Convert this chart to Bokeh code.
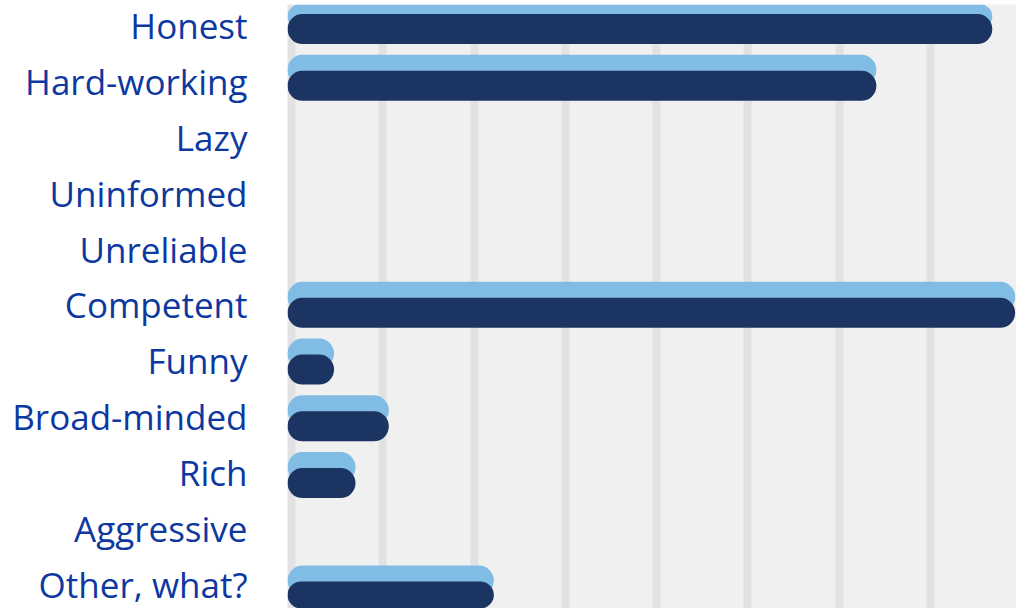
from bokeh.plotting import figure
from bokeh.models import ColumnDataSource, Range1d, FixedTicker, LinearAxis
from bokeh.embed import file_html
from bokeh.resources import INLINE

categories = ["Honest", "Hard-working", "Lazy", "Uninformed", "Unreliable",
              "Competent", "Funny", "Broad-minded", "Rich", "Aggressive", "Other, what?"]
values = [77.2, 64.5, 0, 0, 0, 79.7, 5.1, 11.1, 7.45, 0, 22.6]
grid_values = [0, 10, 20, 30, 40, 50, 60, 70, 80]

pos = list(range(len(categories)))
shadow_shift = 0.282
src = ColumnDataSource(dict(
    y=pos,
    y_light=[p - shadow_shift for p in pos],
    v=values,
))

p = figure(width=1016, height=608, output_backend="svg", toolbar_location=None,
           x_range=Range1d(0, 79.85), y_range=Range1d(10.211, -0.432),
           min_border_left=287, min_border_right=0, min_border_top=4, min_border_bottom=0,
           y_axis_location=None)
p.extra_y_ranges = {"labels": Range1d(10.43, -0.376)}

p.background_fill_color = "#f0f0f0"
p.border_fill_color = "white"
p.outline_line_color = None

p.xaxis.visible = False
p.xgrid.ticker = FixedTicker(ticks=[g + 0.44 for g in grid_values])
p.xgrid.grid_line_color = "#e2e2e4"
p.xgrid.grid_line_width = 8
p.ygrid.grid_line_color = None

ax = LinearAxis(y_range_name="labels", ticker=FixedTicker(ticks=pos),
                major_label_overrides={i: c for i, c in enumerate(categories)})
ax.axis_line_color = None
ax.major_tick_line_color = None
ax.minor_tick_line_color = None
ax.major_tick_out = 0
ax.major_label_standoff = 40
ax.major_label_text_font = "Open Sans"
ax.major_label_text_font_size = "35px"
ax.major_label_text_color = "#0c38a0"
p.add_layout(ax, "left")

bar_h = 0.529
p.hbar(y="y_light", left=0, right="v", height=bar_h, source=src,
       fill_color="#80bce3", line_color=None, border_radius=15)
p.hbar(y="y", left=0, right="v", height=bar_h, source=src,
       fill_color="#1c3462", line_color=None, border_radius=15)

open("out.html", "w").write(file_html(p, INLINE))
